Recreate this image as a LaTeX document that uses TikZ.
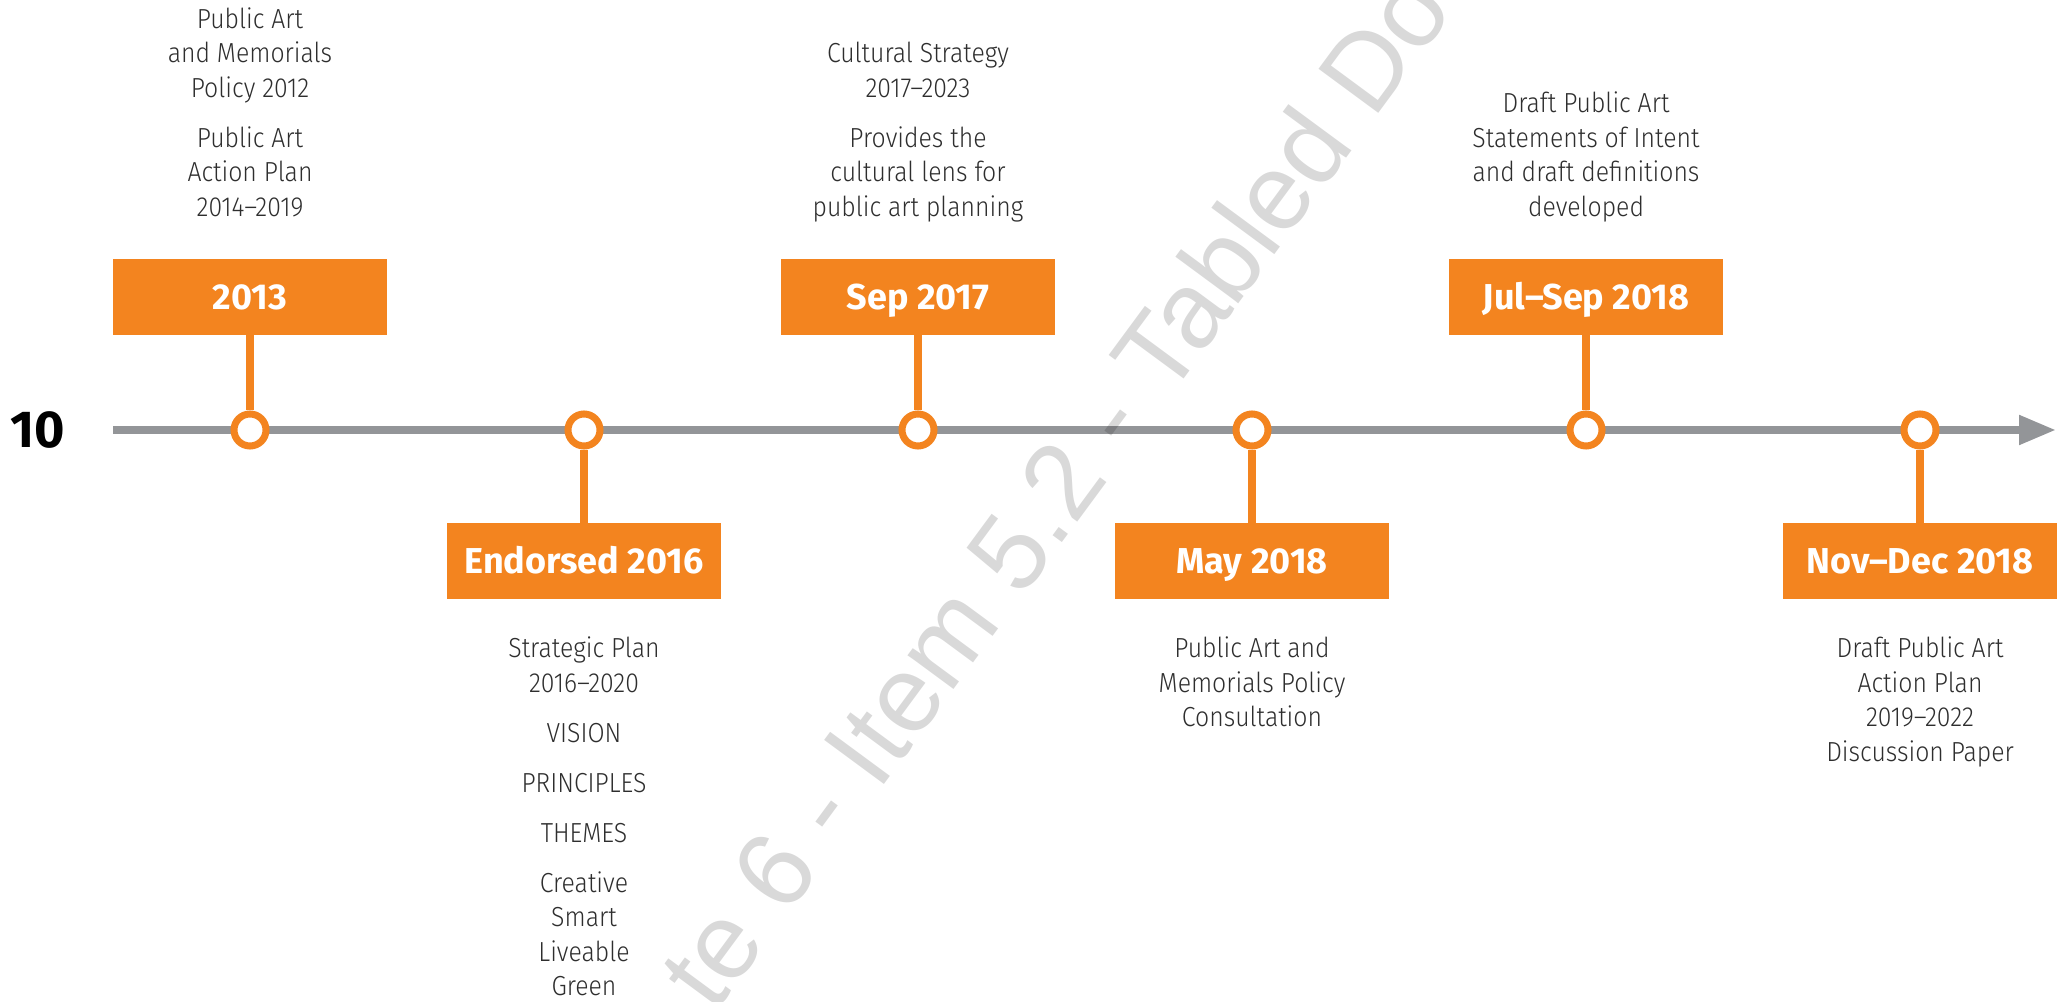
\documentclass[tikz,border=0pt]{standalone}
\usepackage{fontspec}
\setmainfont{Fira Sans}
\newfontfamily\notefont{Fira Sans Light}[FakeStretch=0.9]
\newfontfamily\stampfont{Liberation Sans}
\usepackage{xcolor}
\usepackage{tikz}
\usetikzlibrary{positioning}
\usetikzlibrary{arrows.meta}

\definecolor{planorange}{HTML}{F3841F}
\definecolor{plangray}{HTML}{939598}
\definecolor{plantext}{HTML}{2E2E2E}

\begin{document}
\begin{tikzpicture}[
  datebox/.style={fill=planorange, minimum width=6.85cm, minimum height=1.9cm, inner sep=0pt,
    text=white, text height=17.6pt, text depth=0pt, font=\fontsize{25.6}{30}\selectfont\bfseries},
  note/.style={align=center, inner sep=0pt, text=plantext, font=\fontsize{19.6}{24.54}\selectfont\notefont},
  ring/.style={circle, draw=planorange, line width=5pt, fill=white, minimum size=0.8cm, inner sep=0pt},
  stem/.style={draw=planorange, line width=5.7pt}
]

\clip (0,0) rectangle (51.65,25.025);

% Draw the time line
\coordinate (start) at (2.825,14.275);
\coordinate (end) at (51.4,14.275);
\draw[plangray, line width=5.7pt, -{Triangle[length=0.925cm, width=0.7cm]}] (start) -- (end);
\node[text height=25.5pt, text depth=0pt, inner sep=0pt, font=\fontsize{37}{40}\selectfont\bfseries] (ten) at (0.94,14.275) {10};

% Draw the rings
\foreach \i in {0,...,5}
{
  \node[ring] (r\i) at (6.25+8.35*\i,14.275) {};
}

% Draw the date boxes and stems
\foreach \i/\when in {0/2013, 2/Sep 2017, 4/Jul–Sep 2018}
{
  \node[datebox] (d\i) at (6.25+8.35*\i,17.6) {\when};
  \draw[stem] (d\i) -- (r\i);
}
\foreach \i/\when in {1/Endorsed 2016, 3/May 2018, 5/Nov–Dec 2018}
{
  \node[datebox] (d\i) at (6.25+8.35*\i,11) {\when};
  \draw[stem] (r\i) -- (d\i);
}

% Draw the notes above
\node[note, text depth=0pt, above=1.05cm of d0] (n0) {Public Art\\and Memorials\\Policy 2012\\[11pt]Public Art\\Action Plan\\2014–2019};
\node[note, text depth=0pt, above=1.05cm of d2] (n2) {Cultural Strategy\\2017–2023\\[11pt]Provides the\\cultural lens for\\public art planning};
\node[note, text depth=0pt, above=1.05cm of d4] (n4) {Draft Public Art\\Statements of Intent\\and draft definitions\\developed};

% Draw the notes below
\node[note, below=0.94cm of d1] (n1) {Strategic Plan\\2016–2020\\[11pt]VISION\\[11pt]PRINCIPLES\\[11pt]THEMES\\[11pt]Creative\\Smart\\Liveable\\Green};
\node[note, below=0.94cm of d3] (n3) {Public Art and\\Memorials Policy\\Consultation};
\node[note, below=0.94cm of d5] (n5) {Draft Public Art\\Action Plan\\2019–2022\\Discussion Paper};

% Draw the stamp
\node[anchor=base west, rotate=53.6, inner sep=0pt, text=black, opacity=0.15,
  font=\fontsize{76.8}{80}\selectfont\stampfont] (stamp) at (17.87,-0.34) {te 6 - Item 5.2 - Tabled Do};

\end{tikzpicture}
\end{document}
